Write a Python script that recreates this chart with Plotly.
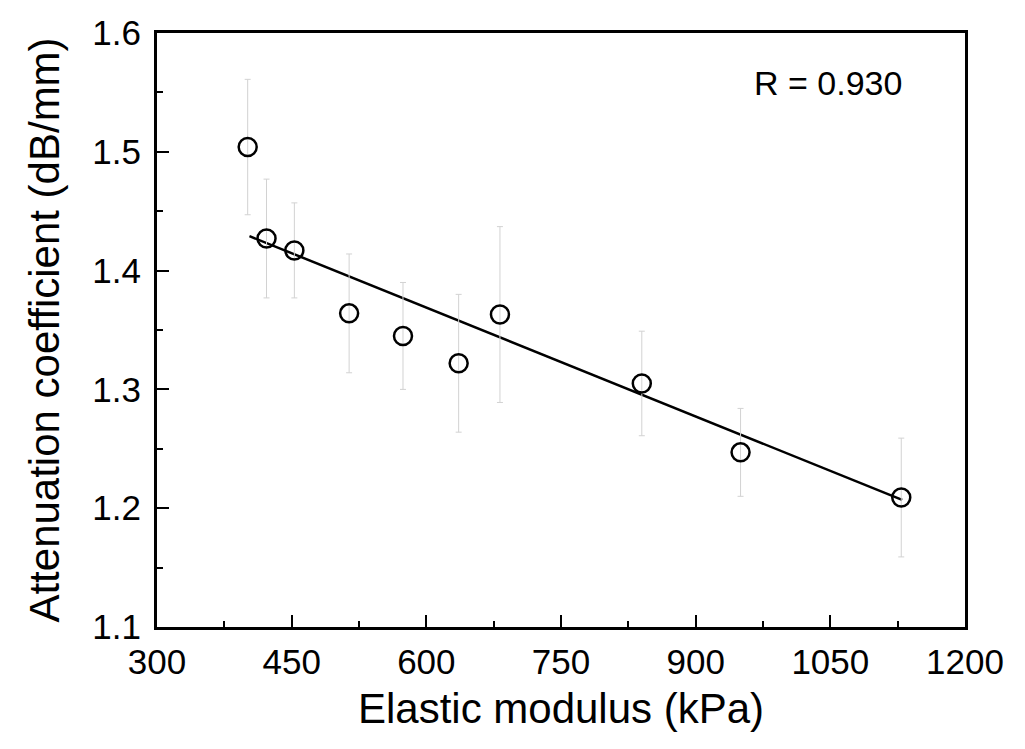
import plotly.graph_objects as go

# Data
elastic_modulus = [401, 422, 453, 514, 574, 636, 682, 840, 950, 1129]
attenuation = [1.504, 1.427, 1.417, 1.364, 1.345, 1.322, 1.363, 1.305, 1.247, 1.209]
attenuation_err = [0.057, 0.050, 0.040, 0.050, 0.045, 0.058, 0.074, 0.044, 0.037, 0.050]

fit_x = [403, 1130]
fit_y = [1.429, 1.207]

x_ticks = [300, 450, 600, 750, 900, 1050, 1200]
y_ticks = [1.1, 1.2, 1.3, 1.4, 1.5, 1.6]
r_label = "R = 0.930"

FONT = "Liberation Sans, Arial, Helvetica, sans-serif"

fig = go.Figure()

fig.add_trace(go.Scatter(
    x=fit_x, y=fit_y, mode="lines",
    line=dict(color="black", width=2.5),
    showlegend=False, hoverinfo="skip",
))

fig.add_trace(go.Scatter(
    x=elastic_modulus, y=attenuation, mode="markers",
    marker=dict(symbol="circle-open", size=18, color="black",
                line=dict(width=2.5, color="black")),
    error_y=dict(type="data", array=attenuation_err, visible=True,
                 color="#d2d2d2", thickness=1, width=3),
    showlegend=False,
))

fig.add_annotation(
    x=0.83, y=0.915, xref="paper", yref="paper",
    text=r_label, showarrow=False,
    font=dict(family=FONT, size=34, color="black"),
    xanchor="center", yanchor="middle",
)

axis_common = dict(
    showline=True, linecolor="black", linewidth=3, mirror=True,
    ticks="inside", ticklen=12, tickwidth=2, tickcolor="black",
    showgrid=False, zeroline=False,
    tickfont=dict(family=FONT, size=35, color="black"),
    automargin=False,
)

fig.update_xaxes(
    range=[300, 1200], tickvals=x_ticks, ticktext=[str(v) for v in x_ticks],
    minor=dict(ticks="inside", ticklen=6, tickwidth=1.5, tickcolor="black", dtick=75),
    title=dict(text="Elastic modulus (kPa)", font=dict(family=FONT, size=42, color="black"),
               standoff=14),
    ticklabelstandoff=2,
    **axis_common,
)
fig.update_yaxes(
    range=[1.1, 1.6], tickvals=y_ticks, ticktext=[f"{v:.1f}" for v in y_ticks],
    minor=dict(ticks="inside", ticklen=6, tickwidth=1.5, tickcolor="black", dtick=0.05),
    title=dict(text="Attenuation coefficient (dB/mm)", font=dict(family=FONT, size=42, color="black"),
               standoff=20),
    ticklabelstandoff=6,
    **axis_common,
)

fig.update_layout(
    width=1025, height=749,
    margin=dict(l=149, r=68, t=25, b=130, pad=0),
    paper_bgcolor="white", plot_bgcolor="white",
    font=dict(family=FONT, color="black"),
)

fig.write_html("out.html")
